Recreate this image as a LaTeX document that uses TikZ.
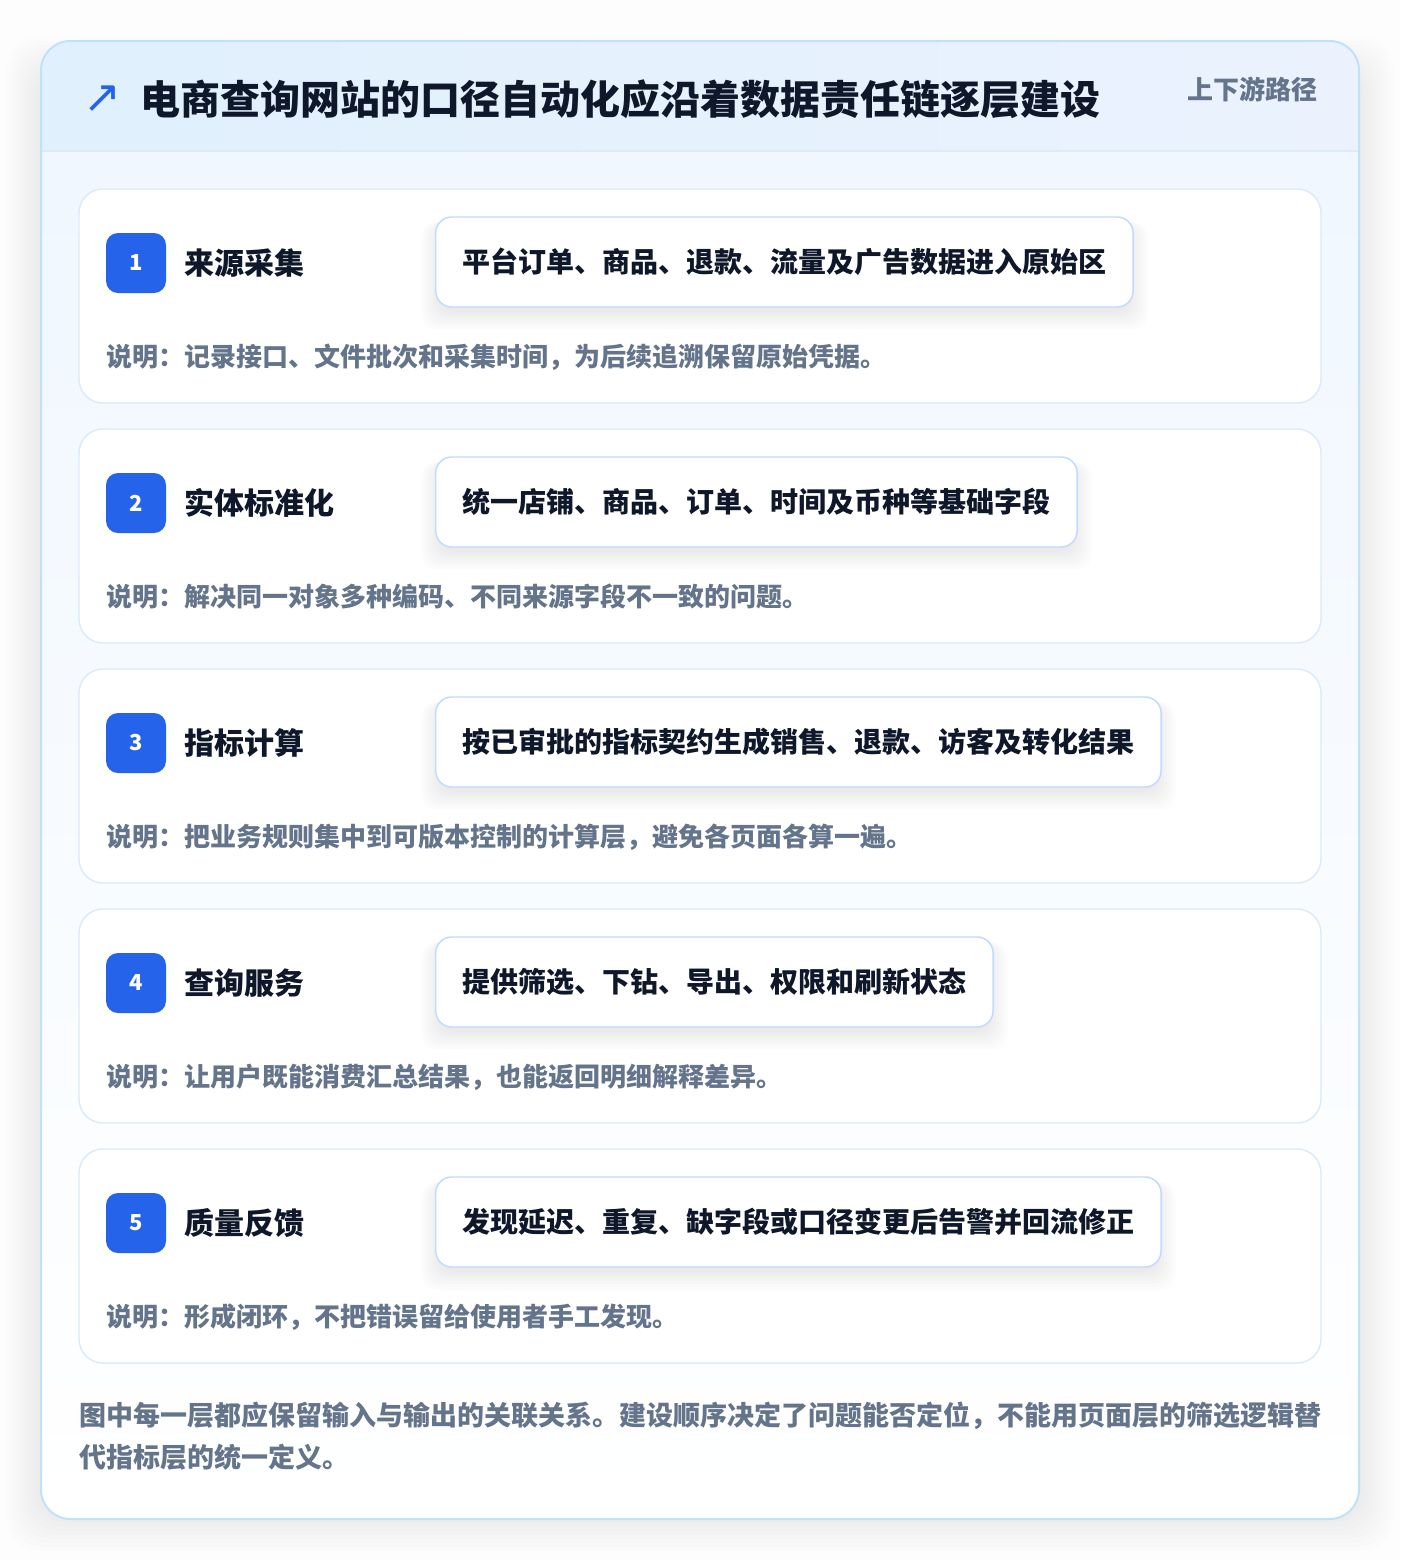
\documentclass[tikz,border=0pt]{standalone}
\usepackage{fontspec}
\setmainfont{Noto Sans CJK SC}
\newfontfamily\symfont{DejaVu Sans}
\usetikzlibrary{calc}

\definecolor{inkdark}{HTML}{0F172A}
\definecolor{inkgray}{HTML}{64748B}
\definecolor{badgeblue}{HTML}{2563EB}
\definecolor{cardline}{HTML}{DCEAF9}
\definecolor{boxline}{HTML}{BFDBFE}
\definecolor{frameline}{HTML}{BEE2F7}
\definecolor{headleft}{HTML}{E0F0FD}
\definecolor{headright}{HTML}{EBF2FE}
\definecolor{bodytop}{HTML}{F0F7FF}
\definecolor{pagebg}{HTML}{FDFDFD}
\definecolor{shadowgray}{HTML}{1E293B}

\pgfdeclarelayer{back}
\pgfdeclarelayer{shade}
\pgfsetlayers{back,shade,main}

\tikzset{
  stepcard/.style={fill=white, draw=cardline, line width=1.1pt, rounded corners=18pt},
  stepbadge/.style={fill=badgeblue, rounded corners=9pt, minimum size=45pt, inner sep=0pt,
    text=white, font=\fontsize{16.5pt}{18pt}\selectfont\bfseries},
  steptitle/.style={anchor=west, inner sep=0pt, text=inkdark, font=\fontsize{22.5pt}{26pt}\selectfont\bfseries},
  stepbox/.style={anchor=west, fill=white, draw=boxline, line width=1.1pt, rounded corners=12pt,
    minimum height=67.5pt, inner xsep=20pt, text=inkdark, font=\fontsize{21pt}{24pt}\selectfont\bfseries},
  stepnote/.style={anchor=west, inner sep=0pt, text=inkgray, font=\fontsize{19.5pt}{23pt}\selectfont\bfseries},
}

% soft shadow under a detail box
\newcommand{\boxshadow}[1]{%
  \begin{pgfonlayer}{shade}
    \foreach \r in {2,5,...,20}
      \fill [shadowgray, opacity=0.012, rounded corners=12pt]
        ($(#1.north west)+(-\r+6,6)$) rectangle ($(#1.south east)+(\r-6,\r+2)$);
  \end{pgfonlayer}}

\begin{document}
\begin{tikzpicture}[x=0.75pt,y=0.75pt,yscale=-1,xscale=1]
	\begin{pgfonlayer}{back}
	% page
	\fill [pagebg] (0,0) rectangle (1400,1560);
	
	% outer frame shadow
	\foreach \r in {2,6,...,38}
		\fill [shadowgray, opacity=0.008, rounded corners=24pt] (41-\r+4,41-\r+34) rectangle (1359+\r-4,1519+\r-6);
	
	% outer frame
	\begin{scope}
		\clip [rounded corners=22pt] (41,41) rectangle (1359,1519);
		\shade [top color=bodytop, bottom color=white] (41,151) rectangle (1359,1519);
		\shade [left color=headleft, right color=headright] (41,41) rectangle (1359,151);
		\draw [color=cardline, line width=1.1pt] (41,151) -- (1359,151);
	\end{scope}
	\draw [color=frameline, line width=1.5pt, rounded corners=22pt] (41,41) rectangle (1359,1519);
	
	% cards
	\draw [stepcard] (79,189) rectangle (1321,403);
	\draw [stepcard] (79,429) rectangle (1321,643);
	\draw [stepcard] (79,669) rectangle (1321,883);
	\draw [stepcard] (79,909) rectangle (1321,1123);
	\draw [stepcard] (79,1149) rectangle (1321,1363);
	\end{pgfonlayer}
	\useasboundingbox (0,0) rectangle (1400,1560);
	
	% header
	\node (arrow) [inner sep=0pt, text=badgeblue, font=\symfont\fontsize{34pt}{36pt}\selectfont] at (102,99) {↗};
	\node (title) [anchor=west, inner sep=0pt, text=inkdark, font=\fontsize{30pt}{34pt}\selectfont\bfseries] at (140,99) {电商查询网站的口径自动化应沿着数据责任链逐层建设};
	\node (route) [anchor=east, inner sep=0pt, text=inkgray, font=\fontsize{19.5pt}{22pt}\selectfont\bfseries] at (1318,89) {上下游路径};
	
	% step 1
	\node (badge1) [stepbadge] at (136,263) {1};
	\node (title1) [steptitle] at (184,263) {来源采集};
	\node (box1) [stepbox] at (435,262) {平台订单、商品、退款、流量及广告数据进入原始区};
	\node (note1) [stepnote] at (106,357) {说明：记录接口、文件批次和采集时间，为后续追溯保留原始凭据。};
	\boxshadow{box1}
	
	% step 2
	\node (badge2) [stepbadge] at (136,503) {2};
	\node (title2) [steptitle] at (184,503) {实体标准化};
	\node (box2) [stepbox] at (435,502) {统一店铺、商品、订单、时间及币种等基础字段};
	\node (note2) [stepnote] at (106,597) {说明：解决同一对象多种编码、不同来源字段不一致的问题。};
	\boxshadow{box2}
	
	% step 3
	\node (badge3) [stepbadge] at (136,743) {3};
	\node (title3) [steptitle] at (184,743) {指标计算};
	\node (box3) [stepbox] at (435,742) {按已审批的指标契约生成销售、退款、访客及转化结果};
	\node (note3) [stepnote] at (106,837) {说明：把业务规则集中到可版本控制的计算层，避免各页面各算一遍。};
	\boxshadow{box3}
	
	% step 4
	\node (badge4) [stepbadge] at (136,983) {4};
	\node (title4) [steptitle] at (184,983) {查询服务};
	\node (box4) [stepbox] at (435,982) {提供筛选、下钻、导出、权限和刷新状态};
	\node (note4) [stepnote] at (106,1077) {说明：让用户既能消费汇总结果，也能返回明细解释差异。};
	\boxshadow{box4}
	
	% step 5
	\node (badge5) [stepbadge] at (136,1223) {5};
	\node (title5) [steptitle] at (184,1223) {质量反馈};
	\node (box5) [stepbox] at (435,1222) {发现延迟、重复、缺字段或口径变更后告警并回流修正};
	\node (note5) [stepnote] at (106,1317) {说明：形成闭环，不把错误留给使用者手工发现。};
	\boxshadow{box5}
	
	% footer
	\node (footer) [anchor=north west, inner sep=0pt, align=left, text=inkgray, font=\fontsize{20.25pt}{31.5pt}\selectfont\bfseries] at (79,1402) {图中每一层都应保留输入与输出的关联关系。建设顺序决定了问题能否定位，不能用页面层的筛选逻辑替\\代指标层的统一定义。};
	
\end{tikzpicture}
\end{document}
